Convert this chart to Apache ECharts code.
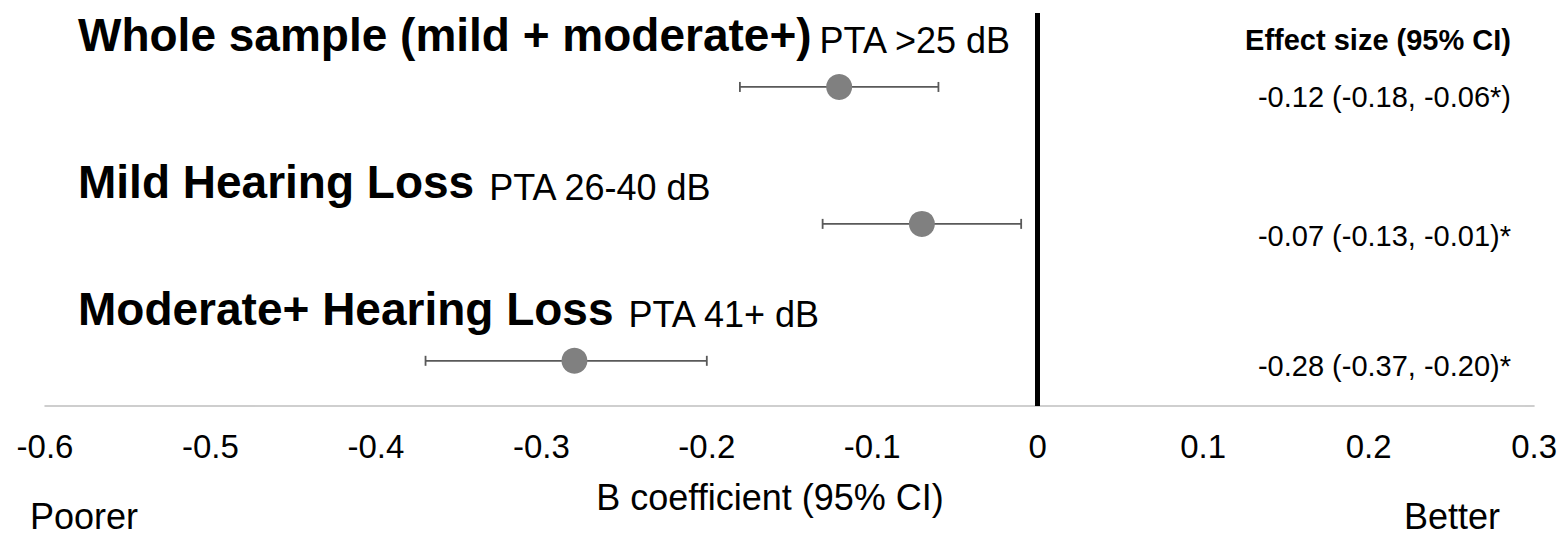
<!DOCTYPE html>
<html>
<head>
<meta charset="utf-8">
<script src="https://cdn.jsdelivr.net/npm/echarts@6/dist/echarts.min.js"></script>
<style>
html,body{margin:0;padding:0;background:#fff;}
#chart{width:1560px;height:536px;}
</style>
</head>
<body>
<div id="chart"></div>
<script>
// ---- data ----
const groupTitles = ['Whole sample (mild + moderate+)', 'Mild Hearing Loss', 'Moderate+ Hearing Loss'];
const groupSubtitles = ['PTA >25 dB', 'PTA 26-40 dB', 'PTA 41+ dB'];
const rowIndex = [3, 2, 1];
const estimates = [-0.12, -0.07, -0.28];
const lowerCI = [-0.18, -0.13, -0.37];
const upperCI = [-0.06, -0.01, -0.20];
const effectLabels = ['-0.12 (-0.18, -0.06*)', '-0.07 (-0.13, -0.01)*', '-0.28 (-0.37, -0.20)*'];
const effectHeader = 'Effect size (95% CI)';
const xAxisName = 'B coefficient (95% CI)';
const leftNote = 'Poorer';
const rightNote = 'Better';
const xMin = -0.6, xMax = 0.3, xStep = 0.1;

const FONT = '"Liberation Sans", Arial, sans-serif';
const chart = echarts.init(document.getElementById('chart'), null, {renderer: 'svg'});

const titleY = [33, 180, 307];
const effectY = [97, 236, 366];

const graphics = [];
groupTitles.forEach((t, i) => {
  graphics.push({
    type: 'text', x: 78, y: titleY[i], silent: true,
    style: {
      text: '{b|' + t + '}{n|' + groupSubtitles[i] + '}',
      verticalAlign: 'middle', align: 'left',
      rich: {
        b: {fontFamily: FONT, fontWeight: 'bold', fontSize: 46, fill: '#000', verticalAlign: 'bottom', lineHeight: 50},
        n: {fontFamily: FONT, fontWeight: 'normal', fontSize: 36, fill: '#000', verticalAlign: 'bottom', lineHeight: 50, padding: [0, 0, 0, i === 0 ? 8 : 15]}
      }
    }
  });
});
graphics.push({
  type: 'text', x: 1511, y: 40, silent: true,
  style: {text: effectHeader, fontFamily: FONT, fontWeight: 'bold', fontSize: 29, fill: '#000', align: 'right', verticalAlign: 'middle'}
});
effectLabels.forEach((t, i) => {
  graphics.push({
    type: 'text', x: 1511, y: effectY[i], silent: true,
    style: {text: t, fontFamily: FONT, fontSize: 29, fill: '#000', align: 'right', verticalAlign: 'middle'}
  });
});
graphics.push({
  type: 'text', x: 770, y: 497, silent: true,
  style: {text: xAxisName, fontFamily: FONT, fontSize: 36, fill: '#000', align: 'center', verticalAlign: 'middle'}
});
graphics.push({
  type: 'text', x: 30, y: 516, silent: true,
  style: {text: leftNote, fontFamily: FONT, fontSize: 36, fill: '#000', align: 'left', verticalAlign: 'middle'}
});
graphics.push({
  type: 'text', x: 1500, y: 516, silent: true,
  style: {text: rightNote, fontFamily: FONT, fontSize: 36, fill: '#000', align: 'right', verticalAlign: 'middle'}
});

const ciData = rowIndex.map((r, i) => [lowerCI[i], upperCI[i], r]);
const pointData = rowIndex.map((r, i) => [estimates[i], r]);

chart.setOption({
  animation: false,
  backgroundColor: '#fff',
  grid: {left: 45, right: 25, top: 13, bottom: 130, containLabel: false},
  xAxis: {
    type: 'value', min: xMin, max: xMax, interval: xStep,
    axisLine: {show: true, lineStyle: {color: '#bfbfbf', width: 1.5}},
    axisTick: {show: false},
    splitLine: {show: false},
    axisLabel: {color: '#000', fontFamily: FONT, fontSize: 33, margin: 24,
      formatter: v => String(Math.round(v * 10) / 10)}
  },
  yAxis: {
    type: 'value', min: 0.67, max: 3.54, show: false, splitLine: {show: false}
  },
  graphic: graphics,
  series: [
    {
      type: 'custom',
      data: ciData,
      z: 2,
      renderItem: function (params, api) {
        const p1 = api.coord([api.value(0), api.value(2)]);
        const p2 = api.coord([api.value(1), api.value(2)]);
        const h = 5;
        const st = {stroke: '#595959', lineWidth: 1.8};
        return {
          type: 'group',
          children: [
            {type: 'line', shape: {x1: p1[0], y1: p1[1], x2: p2[0], y2: p2[1]}, style: st},
            {type: 'line', shape: {x1: p1[0], y1: p1[1] - h, x2: p1[0], y2: p1[1] + h}, style: st},
            {type: 'line', shape: {x1: p2[0], y1: p2[1] - h, x2: p2[0], y2: p2[1] + h}, style: st}
          ]
        };
      }
    },
    {
      type: 'scatter',
      data: pointData,
      symbol: 'circle',
      symbolSize: 26,
      z: 3,
      itemStyle: {color: '#808080', opacity: 1},
      markLine: {
        silent: true,
        symbol: ['none', 'none'],
        label: {show: false},
        lineStyle: {color: '#000', width: 5, type: 'solid'},
        data: [{xAxis: 0}]
      }
    }
  ]
});
</script>
</body>
</html>
